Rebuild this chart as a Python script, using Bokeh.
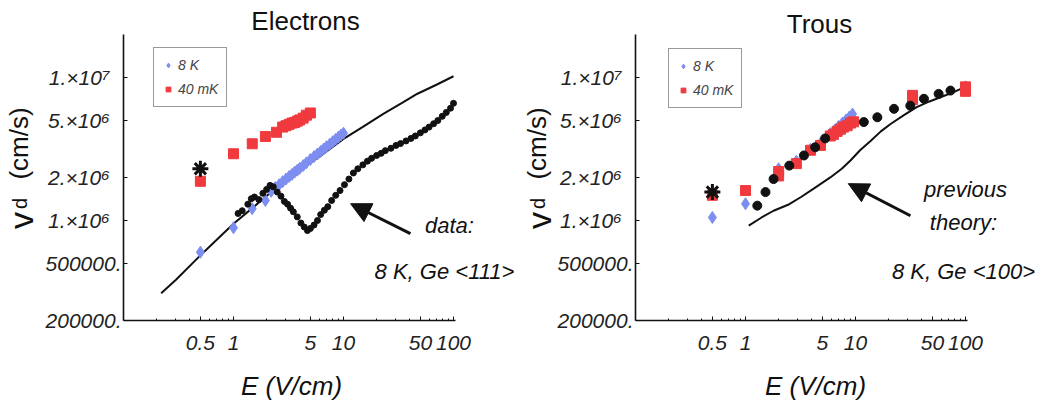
import math
from bokeh.plotting import figure
from bokeh.models import (FixedTicker, Label, Arrow, NormalHead, Legend, LegendItem, Range1d)
from bokeh.layouts import row
from bokeh.embed import file_html
from bokeh.resources import INLINE

# ---------------- data: Electrons ----------------
el_theory_E = [0.22, 0.3, 0.5, 0.7, 1.0, 1.5, 2.2, 3.0, 4.0, 6.0, 10, 15, 23, 35, 47, 70, 100]
el_theory_v = [3.1e5, 3.85e5, 5.7e5, 7.3e5, 9.5e5, 1.23e6, 1.58e6, 1.89e6, 2.24e6, 2.78e6,
               3.72e6, 4.52e6, 5.57e6, 6.73e6, 7.7e6, 8.9e6, 1.02e7]

el_8K_E = [0.5, 1.0, 1.48, 1.95, 2.2, 2.4, 2.6, 2.8, 3.0, 3.2, 3.4, 3.6, 3.8, 4.0, 4.3, 4.6,
           5.0, 5.4, 5.8, 6.2, 6.6, 7.0, 7.5, 8.0, 8.5, 9.0, 9.5, 10.0]
el_8K_v = [6.0e5, 8.9e5, 1.21e6, 1.38e6, 1.6e6, 1.7e6, 1.78e6, 1.87e6, 1.95e6, 2.03e6, 2.1e6,
           2.18e6, 2.25e6, 2.32e6, 2.42e6, 2.53e6, 2.67e6, 2.8e6, 2.92e6, 3.04e6, 3.16e6,
           3.28e6, 3.42e6, 3.56e6, 3.70e6, 3.83e6, 3.96e6, 4.08e6]

el_40mK_E = [0.5, 1.0, 1.48, 1.95, 2.46, 2.8, 3.0, 3.2, 3.4, 3.6, 3.8, 4.0, 4.3, 4.6, 5.0]
el_40mK_v = [1.88e6, 2.93e6, 3.44e6, 3.87e6, 4.14e6, 4.5e6, 4.6e6, 4.7e6, 4.8e6, 4.85e6,
             4.95e6, 5.05e6, 5.2e6, 5.45e6, 5.65e6]

el_data_E = [1.1, 1.2, 1.35, 1.45, 1.55, 1.7, 1.85, 2.0, 2.15, 2.3, 2.5, 2.7, 2.9, 3.1, 3.3,
             3.5, 3.8, 4.1, 4.4, 4.7, 5.0, 5.4, 5.8, 6.2, 6.7, 7.2, 7.8, 8.5, 9.3, 10.2, 11.2,
             12.3, 13.5, 15, 16.5, 18, 20, 22, 24, 27, 30, 33, 37, 41, 45, 50, 55, 60, 66, 72,
             79, 86, 94, 100]
el_data_v = [1.12e6, 1.17e6, 1.30e6, 1.42e6, 1.46e6, 1.40e6, 1.55e6, 1.65e6, 1.76e6, 1.72e6,
             1.58e6, 1.48e6, 1.36e6, 1.30e6, 1.22e6, 1.15e6, 1.06e6, 0.96e6, 0.90e6, 0.85e6,
             0.88e6, 0.93e6, 1.0e6, 1.10e6, 1.18e6, 1.25e6, 1.38e6, 1.50e6, 1.62e6, 1.78e6,
             1.95e6, 2.15e6, 2.3e6, 2.45e6, 2.6e6, 2.72e6, 2.85e6, 2.95e6, 3.08e6, 3.2e6,
             3.35e6, 3.45e6, 3.6e6, 3.75e6, 3.9e6, 4.1e6, 4.3e6, 4.5e6, 4.75e6, 5.0e6,
             5.35e6, 5.7e6, 6.1e6, 6.6e6]

el_star_E = [0.5]
el_star_v = [2.3e6]

# ---------------- data: Trous ----------------
ho_theory_E = [1.07, 1.4, 1.8, 2.5, 3.2, 4.3, 5.9, 7.5, 9.0, 11, 13.7, 17, 21, 28, 36, 47, 60, 78, 96]
ho_theory_v = [9.2e5, 1.05e6, 1.17e6, 1.3e6, 1.46e6, 1.7e6, 2.0e6, 2.3e6, 2.63e6, 3.1e6, 3.6e6,
               4.2e6, 4.75e6, 5.5e6, 6.2e6, 6.8e6, 7.3e6, 7.9e6, 8.5e6]

ho_8K_E = [0.5, 1.0, 2.0, 2.9, 3.9, 4.8, 5.9, 6.5, 7.0, 7.6, 8.2, 8.8, 9.4, 33, 100]
ho_8K_v = [1.05e6, 1.31e6, 2.3e6, 2.6e6, 3.15e6, 3.45e6, 4.05e6, 4.3e6, 4.55e6, 4.8e6, 5.05e6,
           5.3e6, 5.55e6, 7.4e6, 8.6e6]

ho_40mK_E = [0.5, 1.0, 2.0, 2.0, 2.9, 3.9, 4.8, 5.9, 6.3, 6.8, 7.3, 7.8, 8.4, 9.0, 9.6, 33, 33, 100, 100]
ho_40mK_v = [1.5e6, 1.62e6, 2.2e6, 2.05e6, 2.5e6, 3.1e6, 3.35e6, 3.9e6, 4.0e6, 4.2e6, 4.35e6,
             4.5e6, 4.6e6, 4.8e6, 4.9e6, 7.0e6, 7.5e6, 8.0e6, 8.6e6]

ho_data_E = [1.28, 1.52, 1.8, 2.5, 3.4, 4.3, 5.3, 11.9, 15.8, 22.4, 31.5, 41.9, 57, 73]
ho_data_v = [1.27e6, 1.58e6, 1.95e6, 2.42e6, 2.85e6, 3.25e6, 3.75e6, 4.88e6, 5.27e6, 6.04e6,
             6.35e6, 7.1e6, 7.68e6, 8.1e6]

ho_star_E = [0.5]
ho_star_v = [1.58e6]

# ---------------- ticks ----------------
x_ticks = [0.5, 1, 5, 10, 50, 100]
x_tick_labels = ["0.5", "1", "5", "10", "50", "100"]
x_minor = [0.2, 0.3, 0.4, 0.6, 0.7, 0.8, 0.9, 2, 3, 4, 6, 7, 8, 9, 20, 30, 40, 60, 70, 80, 90]
y_ticks = [200000, 500000, 1000000, 2000000, 5000000, 10000000]
y_tick_labels = ["200000.", "500000.", "1.×10⁶\u2007", "2.×10⁶\u2007",
                 "5.×10⁶\u2007", "1.×10⁷\u2007"]

BLUE = "#7d8ef0"
RED = "#f03a3e"
FONT = "Liberation Sans"
INK = "#111111"
H = 400
PX_DECADE_X = 110.0
PX_DECADE_Y = 143.0
Y_1E6 = 220.0  # pixel row of 1e6 from the top


def make_fig(width, x_of_one):
    # the frame fills the whole figure; axes are pinned at E=0.1 and v=2e5
    xr = Range1d(10 ** (-x_of_one / PX_DECADE_X), 10 ** ((width - x_of_one) / PX_DECADE_X))
    yr = Range1d(10 ** (6 - (H - Y_1E6) / PX_DECADE_Y), 10 ** (6 + Y_1E6 / PX_DECADE_Y))
    p = figure(width=width, height=H, x_axis_type="log", y_axis_type="log",
               x_range=xr, y_range=yr, output_backend="svg", toolbar_location=None,
               min_border=0, min_border_left=0, min_border_right=0,
               min_border_top=0, min_border_bottom=0)
    p.grid.visible = False
    p.outline_line_color = None
    p.background_fill_color = "white"
    p.border_fill_color = "white"

    p.xaxis.fixed_location = 2e5
    p.yaxis.fixed_location = 0.1
    p.xaxis.bounds = (0.1, 105)
    p.yaxis.bounds = (2e5, 2e7)
    p.xaxis.ticker = FixedTicker(ticks=x_ticks, minor_ticks=x_minor)
    p.xaxis.major_label_overrides = {k: s for k, s in zip(x_ticks, x_tick_labels)}
    p.yaxis.ticker = FixedTicker(ticks=y_ticks, minor_ticks=[])
    p.yaxis.major_label_overrides = {k: s for k, s in zip(y_ticks, y_tick_labels)}
    for ax in (p.xaxis, p.yaxis):
        ax.axis_line_width = 1.6
        ax.axis_line_color = INK
        ax.major_tick_in = 4
        ax.major_tick_out = 0
        ax.minor_tick_in = 2
        ax.minor_tick_out = 0
        ax.major_tick_line_color = INK
        ax.minor_tick_line_color = INK
        ax.major_label_text_font = FONT
        ax.major_label_text_font_style = "italic"
        ax.major_label_text_font_size = "21px"
        ax.major_label_text_color = "#222222"
    p.xaxis.major_label_standoff = 16
    p.yaxis.major_label_standoff = 2
    return p


def lab(p, x, y, text, size, style="normal", angle=0.0):
    p.add_layout(Label(x=x, y=y, x_units="screen", y_units="screen", text=text,
                       angle=angle, text_align="center", text_baseline="middle",
                       text_font=FONT, text_font_style=style, text_font_size=size,
                       text_color=INK))


def add_common(p, title, tx, ty, ex, ax):
    lab(p, tx, H - ty, title, "26px")
    lab(p, ex, H - 385, "E (V/cm)", "26px", "italic")
    lab(p, ax - 4, H - 143, "(cm/s)", "26px", angle=math.pi / 2)
    lab(p, ax - 2, H - 220, "v", "34px", angle=math.pi / 2)
    lab(p, ax - 3, H - 203, "d", "20px", angle=math.pi / 2)


def add_legend(p, r8, r40, left, bottom):
    leg = Legend(items=[LegendItem(label="8 K", renderers=[r8]),
                        LegendItem(label="40 mK", renderers=[r40])],
                 location=(left, H - bottom), border_line_color="#333333",
                 border_line_width=1.2, background_fill_color="white",
                 background_fill_alpha=1, label_text_font=FONT,
                 label_text_font_style="italic", label_text_font_size="14px",
                 glyph_width=12, glyph_height=18, label_height=18, spacing=6,
                 padding=8, label_standoff=4, margin=0)
    p.add_layout(leg)


# ---------------- Electrons ----------------
p1 = make_fig(520, 233)
p1.line(el_theory_E, el_theory_v, line_color=INK, line_width=2)
r40a = p1.scatter(el_40mK_E, el_40mK_v, marker="square", size=10, fill_color=RED, line_color=RED)
r8a = p1.scatter(el_8K_E, el_8K_v, marker="diamond", size=12, fill_color=BLUE, line_color=BLUE)
p1.scatter(el_data_E, el_data_v, marker="circle", size=6, fill_color=INK, line_color=INK)
p1.scatter(el_star_E, el_star_v, marker="asterisk", size=16, line_color=INK, line_width=3)
add_common(p1, "Electrons", 305, 20, 291, 22)
add_legend(p1, r8a, r40a, 153, 107)
p1.add_layout(Arrow(end=NormalHead(size=20, fill_color=INK, line_color=INK),
                    x_start=40.6, y_start=8.1e5, x_end=11.6, y_end=1.31e6,
                    line_width=3, line_color=INK))
lab(p1, 449, H - 225, "data:", "22px", "italic")
lab(p1, 444, H - 271, "8 K, Ge <111>", "22px", "italic")

# ---------------- Trous ----------------
p2 = make_fig(519, 225)
p2.line(ho_theory_E, ho_theory_v, line_color=INK, line_width=2)
r8b = p2.scatter(ho_8K_E, ho_8K_v, marker="diamond", size=12, fill_color=BLUE, line_color=BLUE)
r40b = p2.scatter(ho_40mK_E, ho_40mK_v, marker="square", size=10, fill_color=RED, line_color=RED)
p2.scatter(ho_data_E, ho_data_v, marker="circle", size=9, fill_color=INK, line_color=INK)
p2.scatter(ho_star_E, ho_star_v, marker="asterisk", size=16, line_color=INK, line_width=3)
add_common(p2, "Trous", 299, 23, 295, 20)
add_legend(p2, r8b, r40b, 148, 108)
p2.add_layout(Arrow(end=NormalHead(size=20, fill_color=INK, line_color=INK),
                    x_start=31.6, y_start=1.08e6, x_end=8.6, y_end=1.81e6,
                    line_width=3, line_color=INK))
lab(p2, 445, H - 189, "previous", "22px", "italic")
lab(p2, 443, H - 222, "theory:", "22px", "italic")
lab(p2, 443, H - 271, "8 K, Ge <100>", "22px", "italic")

layout = row(p1, p2)
open("out.html", "w").write(file_html(layout, INLINE))
